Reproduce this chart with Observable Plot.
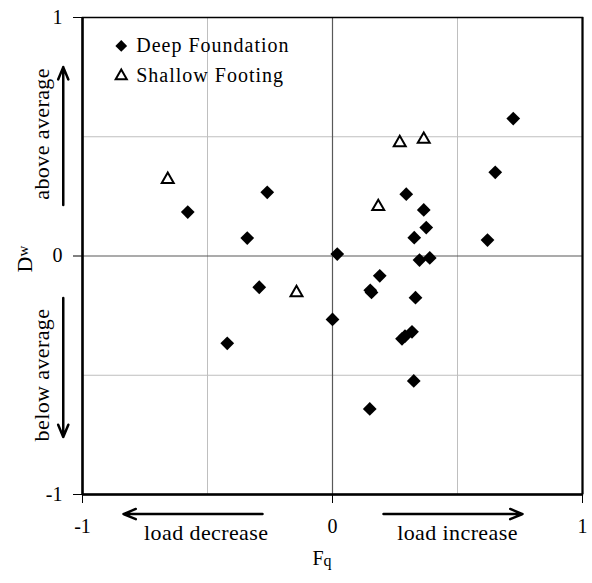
<!DOCTYPE html>
<html><head><meta charset="utf-8">
<script src="https://cdn.jsdelivr.net/npm/d3@7"></script>
<script src="https://cdn.jsdelivr.net/npm/@observablehq/plot@0.6"></script>
<style>html,body{margin:0;padding:0;background:#fff}#chart svg{display:block}
#chart svg, #chart svg text{font-family:"Liberation Serif", serif !important;}</style>
</head><body><div id="chart"></div>
<script>
// Deep Foundation points (Fq, Dw)
const deepFq = [-0.579,-0.261,-0.341,-0.293,0.000,-0.421,0.019,0.723,0.651,0.295,0.365,0.375,0.327,0.620,0.348,0.389,0.189,0.151,0.156,0.332,0.278,0.290,0.318,0.325,0.149];
const deepDw = [0.184,0.267,0.075,-0.131,-0.266,-0.366,0.008,0.576,0.351,0.259,0.193,0.119,0.077,0.067,-0.017,-0.008,-0.083,-0.144,-0.153,-0.175,-0.347,-0.336,-0.318,-0.524,-0.641];
// Shallow Footing points
const shallowFq = [-0.659,-0.144,0.269,0.365,0.183];
const shallowDw = [0.321,-0.154,0.475,0.489,0.207];

const xTicks = [-1, 0, 1];
const yTicks = [-1, 0, 1];
const minorGrid = [-0.5, 0.5];
const zeroGrid = [0];
const seriesNames = ["Deep Foundation", "Shallow Footing"];
const xTitle = ["F", "q"];
const yTitle = ["D", "w"];
const arrowTexts = ["load decrease", "load increase", "above average", "below average"];

const deep = deepFq.map((x, i) => ({x, y: deepDw[i]}));
const shallow = shallowFq.map((x, i) => ({x, y: shallowDw[i]}));

// annotation anchors (data units, outside the frame)
const arrows = [
  {x1: -0.28, y1: -1.082, x2: -0.836, y2: -1.082},
  {x1: 0.204, y1: -1.082, x2: 0.76, y2: -1.082},
  {x1: -1.077, y1: 0.214, x2: -1.077, y2: 0.792},
  {x1: -1.077, y1: -0.176, x2: -1.077, y2: -0.759}
];
const hLabels = [
  {x: -0.505, y: -1.161, t: arrowTexts[0]},
  {x: 0.5, y: -1.161, t: arrowTexts[1]}
];
const vLabels = [
  {x: -1.162, y: 0.512, t: arrowTexts[2]},
  {x: -1.162, y: -0.499, t: arrowTexts[3]}
];
const legend = [
  {x: -0.845, y: 0.881, t: seriesNames[0], s: "diamond2", f: "#000", st: "none", r: 5.3},
  {x: -0.845, y: 0.755, t: seriesNames[1], s: "triangle2", f: "#fff", st: "#000", r: 5.3}
];
const FONT = "Liberation Serif";

const plot = Plot.plot({
  width: 592, height: 583,
  marginLeft: 82, marginRight: 10, marginTop: 17, marginBottom: 89,
  x: {domain: [-1, 1]},
  y: {domain: [-1, 1]},
  r: {type: "identity"},
  style: {fontFamily: FONT, fontSize: "20px", color: "#000", background: "#fff", overflow: "visible"},
  marks: [
    Plot.ruleX(minorGrid, {stroke: "#bfbfbf", strokeWidth: 1}),
    Plot.ruleY(minorGrid, {stroke: "#bfbfbf", strokeWidth: 1}),
    Plot.ruleX(zeroGrid, {stroke: "#595959", strokeWidth: 1.2}),
    Plot.ruleY(zeroGrid, {stroke: "#595959", strokeWidth: 1.2}),
    Plot.frame({stroke: "#000", strokeWidth: 1.5}),
    Plot.ruleX([-1], {stroke: "#000", strokeWidth: 2.5}),
    Plot.ruleY([-1], {stroke: "#000", strokeWidth: 2.5}),
    Plot.ruleX([1], {stroke: "#000", strokeWidth: 2}),
    Plot.axisX(xTicks, {tickSize: 9, tickFormat: () => "", label: null, stroke: "#000"}),
    Plot.axisY(yTicks, {tickSize: 9, tickFormat: () => "", label: null, stroke: "#000"}),
    Plot.text(xTicks, {x: d => d, frameAnchor: "bottom", dy: 38, text: d => String(d), fontSize: 20, fontFamily: FONT}),
    Plot.text(yTicks, {y: d => d, frameAnchor: "left", dx: -20, textAnchor: "end", text: d => String(d), fontSize: 20, fontFamily: FONT}),
    Plot.dot(deep, {x: "x", y: "y", symbol: "diamond2", r: 6.2, fill: "#000", stroke: "none"}),
    Plot.dot(shallow, {x: "x", y: "y", symbol: "triangle2", r: 5.7, fill: "#fff", stroke: "#000", strokeWidth: 2}),
    Plot.dot(legend, {x: "x", y: "y", symbol: "s", r: "r", fill: "f", stroke: "st", strokeWidth: 2}),
    Plot.text(legend, {x: "x", y: "y", text: "t", dx: 15, textAnchor: "start", fontSize: 20, fontFamily: FONT}),
    Plot.arrow(arrows, {x1: "x1", y1: "y1", x2: "x2", y2: "y2", stroke: "#000", strokeWidth: 2.5, headLength: 8, headAngle: 45, insetStart: 0, insetEnd: 0}),
    Plot.text(hLabels, {x: "x", y: "y", text: "t", fontSize: 22, fontFamily: FONT}),
    Plot.text(vLabels, {x: "x", y: "y", text: "t", fontSize: 22, fontFamily: FONT, rotate: -90})
  ]
});

document.getElementById("chart").appendChild(plot);

const svg = d3.select(plot);
// letter spacing similar to the reference rendering
svg.selectAll("text").each(function () {
  const t = this.textContent;
  if (seriesNames.includes(t)) this.setAttribute("letter-spacing", "1");
  else if (arrowTexts.includes(t)) this.setAttribute("letter-spacing", "0.4");
});

// axis titles with subscripts
const xs = plot.scale("x"), ys = plot.scale("y");
const ft = svg.append("text")
  .attr("x", xs.apply(0) - 10).attr("y", 565)
  .attr("font-family", FONT).attr("font-size", 20).attr("fill", "#000");
ft.append("tspan").text(xTitle[0]);
ft.append("tspan").attr("font-size", 16).attr("dy", 1).text(xTitle[1]);

const dt = svg.append("text")
  .attr("transform", `translate(32,${ys.apply(0) + 17}) rotate(-90)`)
  .attr("text-anchor", "start")
  .attr("font-family", FONT).attr("font-size", 22).attr("fill", "#000");
dt.append("tspan").text(yTitle[0]);
dt.append("tspan").attr("font-size", 15).attr("dy", -4).text(yTitle[1]);
</script>
</body></html>
